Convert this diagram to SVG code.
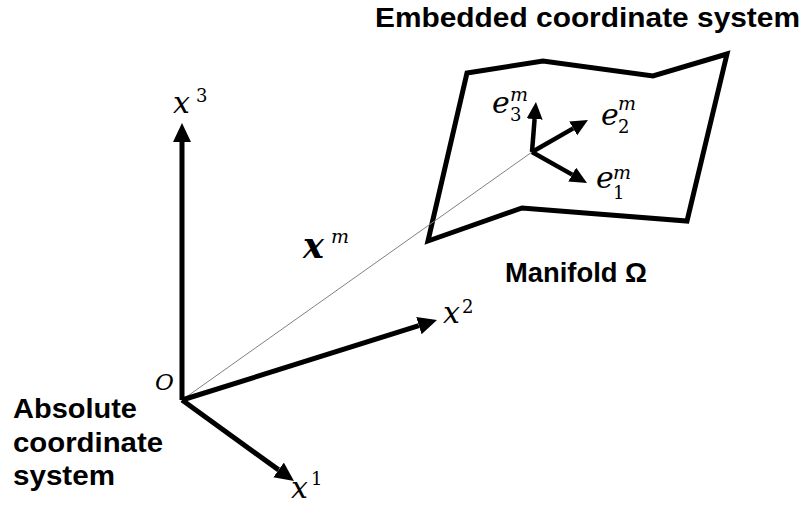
<svg xmlns="http://www.w3.org/2000/svg" width="806" height="513" viewBox="0 0 806 513">
<style>
.title{font-family:"Liberation Sans",Arial,sans-serif;font-weight:bold;font-size:27px;fill:#000}
.math{font-family:"DejaVu Serif","Liberation Serif",serif;font-style:italic;font-size:30px;fill:#000}
.sup{font-family:"DejaVu Serif","Liberation Serif",serif;font-size:18px;fill:#000}
.supi{font-family:"DejaVu Serif","Liberation Serif",serif;font-style:italic;font-size:19px;fill:#000}
.axis{stroke:#000;stroke-width:5;fill:none}
.eaxis{stroke:#000;stroke-width:4.5;fill:none}
</style>
<defs>
<marker id="bigArrow" markerUnits="userSpaceOnUse" markerWidth="20" markerHeight="20" refX="0" refY="9" orient="auto" viewBox="0 0 20 20">
<path d="M0,0 L19,9 L0,18 z" fill="#000"/>
</marker>
<marker id="smallArrow" markerUnits="userSpaceOnUse" markerWidth="18" markerHeight="17" refX="0" refY="8" orient="auto" viewBox="0 0 18 17">
<path d="M0,0 L17,8 L0,16 z" fill="#000"/>
</marker>
</defs>

<g id="manifold">
<polygon points="467,73 543,61 653,76 727,54 687,221 522,208 428,241" fill="none" stroke="#000" stroke-width="5" stroke-linejoin="miter"/>
</g>

<g id="connectors">
<line id="position-vector" x1="182" y1="400" x2="532" y2="152" stroke="#808080" stroke-width="1"/>
<line id="axis-x3" class="axis" x1="182" y1="400" x2="182" y2="142" marker-end="url(#bigArrow)"/>
<line id="axis-x2" class="axis" x1="182" y1="400" x2="418.9" y2="325.7" marker-end="url(#bigArrow)"/>
<line id="axis-x1" class="axis" x1="182" y1="400" x2="278.6" y2="469.9" marker-end="url(#bigArrow)"/>
<line id="axis-e3" class="eaxis" x1="532" y1="152" x2="534.6" y2="119" marker-end="url(#smallArrow)"/>
<line id="axis-e2" class="eaxis" x1="532" y1="152" x2="573.2" y2="128.4" marker-end="url(#smallArrow)"/>
<line id="axis-e1" class="eaxis" x1="532" y1="152" x2="572.2" y2="174.6" marker-end="url(#smallArrow)"/>
</g>

<g id="label-embedded">
<text class="title" x="375" y="27" textLength="425" lengthAdjust="spacingAndGlyphs">Embedded coordinate system</text>
</g>
<g id="label-manifold">
<text class="title" x="505" y="282" textLength="142" lengthAdjust="spacingAndGlyphs">Manifold Ω</text>
</g>
<g id="label-absolute">
<text class="title" x="13" y="418" textLength="124" lengthAdjust="spacingAndGlyphs">Absolute</text>
<text class="title" x="13" y="452" textLength="150" lengthAdjust="spacingAndGlyphs">coordinate</text>
<text class="title" x="13" y="485" textLength="102" lengthAdjust="spacingAndGlyphs">system</text>
</g>

<g id="label-x3">
<text class="math" x="173" y="113">x</text><text class="sup" x="196" y="102">3</text>
</g>
<g id="label-x2">
<text class="math" x="443" y="323">x</text><text class="sup" x="462" y="313">2</text>
</g>
<g id="label-x1">
<text class="math" x="291" y="498">x</text><text class="sup" x="311" y="485">1</text>
</g>
<g id="label-origin">
<text class="math" x="155" y="390" style="font-size:23px">O</text>
</g>
<g id="label-xm">
<text class="math" x="303" y="258" style="font-weight:bold;font-size:35px">x</text><text class="supi" x="331" y="243">m</text>
</g>
<g id="label-e3">
<text class="math" x="492" y="113">e</text><text class="sup" x="510" y="121">3</text><text class="supi" x="510" y="101">m</text>
</g>
<g id="label-e2">
<text class="math" x="601" y="125">e</text><text class="sup" x="618" y="133">2</text><text class="supi" x="618" y="110">m</text>
</g>
<g id="label-e1">
<text class="math" x="596" y="188">e</text><text class="sup" x="613" y="199">1</text><text class="supi" x="613" y="179">m</text>
</g>
</svg>
